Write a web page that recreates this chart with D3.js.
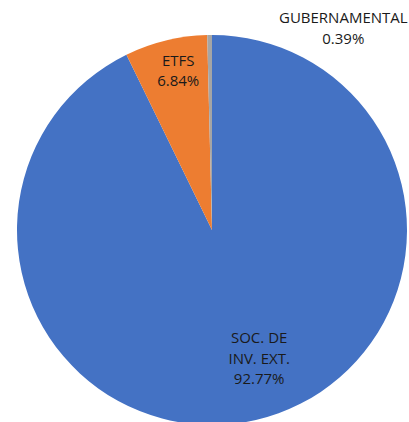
<!DOCTYPE html>
<html><head><meta charset="utf-8">
<script src="https://cdn.jsdelivr.net/npm/d3@7"></script>
<style>html,body{margin:0;padding:0;background:#fff;overflow:hidden}</style>
</head><body>
<svg id="chart" width="409" height="422"></svg>
<script>
const categories = ["SOC. DE INV. EXT.", "ETFS", "GUBERNAMENTAL"];
const labelLines = [["SOC. DE", "INV. EXT."], ["ETFS"], ["GUBERNAMENTAL"]];
const values = [92.77, 6.84, 0.39];
const colors = ["#4472C4", "#ED7D31", "#A5A5A5"];

const svg = d3.select("#chart");
const cx = 212, cy = 230, R = 195;
const g = svg.append("g").attr("transform", `translate(${cx},${cy})`);

const pie = d3.pie().sort(null).value(d => d)(values);
const arc = d3.arc().innerRadius(0).outerRadius(R);
g.selectAll("path.slice").data(pie).enter().append("path")
  .attr("class", "slice")
  .attr("d", arc)
  .attr("fill", (d, i) => colors[i]);

const fmt = v => v.toFixed(2) + "%";
// label placement (radius factor, dx, dy adjustments)
const place = [
  {r: 0.71, dx: 16, dy: -6},
  {r: 0.84, dx: 5, dy: 0},
  {r: 1.13, dx: 134, dy: 19}
];
pie.forEach((d, i) => {
  const la = d3.arc().innerRadius(R * place[i].r).outerRadius(R * place[i].r);
  const [x, y] = la.centroid(d);
  const lines = labelLines[i].concat([fmt(values[i])]);
  const lh = 20.5;
  const t = g.append("text")
    .attr("text-anchor", "middle")
    .attr("font-family", "'Open Sans', sans-serif")
    .attr("font-size", 15)
    .attr("fill", "#1a1a1a");
  lines.forEach((s, k) => {
    t.append("tspan")
      .attr("x", x + place[i].dx)
      .attr("y", y + place[i].dy + (k - (lines.length - 1) / 2) * lh + 5)
      .text(s);
  });
});
</script>
</body></html>
